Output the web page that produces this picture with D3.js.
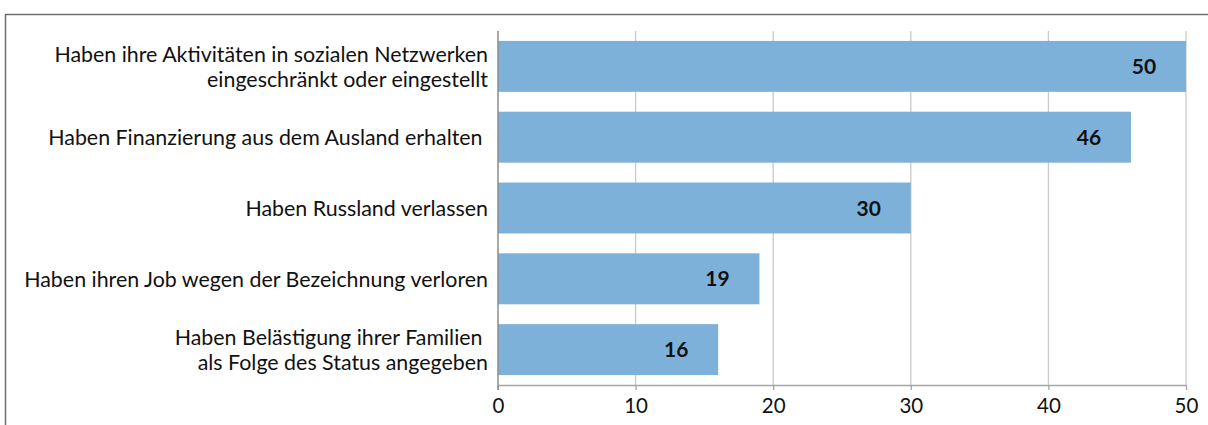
<!DOCTYPE html>
<html>
<head>
<meta charset="utf-8">
<script src="https://cdn.jsdelivr.net/npm/d3@7"></script>
<style>
  body { margin: 0; background: #fff; }
  svg { display: block; font-family: Lato, "Open Sans", sans-serif; }
</style>
</head>
<body>
<div id="chartContainer"></div>
<script>
// category labels (lines split where the original breaks them; trailing spaces kept)
const categories = [
    ['Haben ihre Aktivitäten in sozialen Netzwerken', 'eingeschränkt oder eingestellt'],
    ['Haben Finanzierung aus dem Ausland erhalten '],
    ['Haben Russland verlassen'],
    ['Haben ihren Job wegen der Bezeichnung verloren'],
    ['Haben Belästigung ihrer Familien ', 'als Folge des Status angegeben']
];
const values = [50, 46, 30, 19, 16];
const xTicks = [0, 10, 20, 30, 40, 50];

const width = 1208;
const height = 425;
const margin = { top: 31, right: 22, bottom: 40, left: 498 };

const svg = d3.select('#chartContainer').append('svg')
    .attr('width', width)
    .attr('height', height);

// frame (only top and left edges are visible in the crop)
svg.append('path')
    .attr('d', `M5.5,${height} V14.5 H${width}`)
    .attr('fill', 'none')
    .attr('stroke', '#6e6e6e')
    .attr('stroke-width', 1.5);

const x = d3.scaleLinear()
    .domain([0, 50])
    .range([margin.left, width - margin.right]);

const y = d3.scaleBand()
    .domain(d3.range(values.length))
    .range([margin.top, height - margin.bottom])
    .paddingInner(0.28)
    .paddingOuter(0.14);

const axisY = 385;

// vertical gridlines
svg.append('g').selectAll('line')
    .data(xTicks.slice(1))
    .join('line')
    .attr('x1', d => x(d))
    .attr('x2', d => x(d))
    .attr('y1', margin.top)
    .attr('y2', axisY)
    .attr('stroke', '#c9c9c9')
    .attr('stroke-width', 1.3);

// bars
svg.append('g').selectAll('rect')
    .data(values)
    .join('rect')
    .attr('x', x(0))
    .attr('y', (d, i) => y(i))
    .attr('width', d => x(d) - x(0))
    .attr('height', y.bandwidth())
    .attr('fill', '#7eb1d9');

// value labels inside bar ends
svg.append('g').selectAll('text')
    .data(values)
    .join('text')
    .attr('x', d => x(d) - 42)
    .attr('y', (d, i) => y(i) + y.bandwidth() / 2)
    .attr('dy', '0.36em')
    .attr('text-anchor', 'middle')
    .attr('font-size', 21)
    .attr('font-weight', 'bold')
    .attr('fill', '#111')
    .text(d => d);

// x axis
const xAxis = svg.append('g')
    .attr('transform', `translate(0,${axisY})`)
    .call(d3.axisBottom(x).tickValues(xTicks).tickSize(5).tickSizeOuter(0).tickPadding(8));
xAxis.select('.domain').attr('stroke', '#a6a6a6').attr('stroke-width', 1.5);
xAxis.selectAll('.tick line').attr('stroke', '#a6a6a6').attr('stroke-width', 1.3);
xAxis.selectAll('.tick text')
    .attr('font-family', 'Lato, sans-serif')
    .attr('font-size', 20.5)
    .attr('fill', '#111');

// left axis line
svg.append('line')
    .attr('x1', x(0))
    .attr('x2', x(0))
    .attr('y1', margin.top)
    .attr('y2', axisY + 5)
    .attr('stroke', '#8c8c8c')
    .attr('stroke-width', 1.5);

// category labels
const labelGroup = svg.append('g');
categories.forEach((lines, i) => {
    const cy = y(i) + y.bandwidth() / 2;
    const lineHeight = 25;
    const text = labelGroup.append('text')
        .attr('text-anchor', 'end')
        .attr('font-size', 21.4)
        .attr('fill', '#111')
        .style('white-space', 'pre');
    lines.forEach((line, j) => {
        text.append('tspan')
            .attr('x', 488)
            .attr('y', cy + (j - (lines.length - 1) / 2) * lineHeight)
            .attr('dy', '0.36em')
            .text(line);
    });
});
</script>
</body>
</html>
